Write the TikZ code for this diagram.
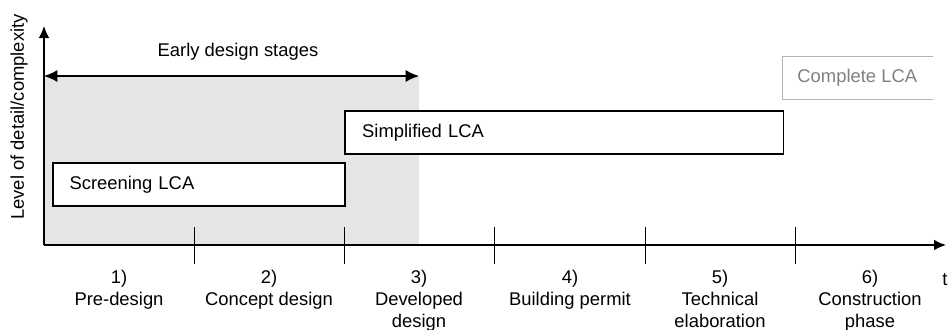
\documentclass[tikz,border=0pt]{standalone}
\usepackage{fontspec}
\setmainfont{Liberation Sans}
\usetikzlibrary{arrows.meta,positioning}

\tikzset{
  lcabox/.style={draw,line width=1.3pt,fill=white,anchor=west,align=left,inner xsep=12.5pt,minimum height=32pt,font=\fontsize{13.8}{16}\selectfont},
  stagelbl/.style={anchor=north,align=center,inner sep=1pt,font=\fontsize{13.8}{16.2}\selectfont}
}

\begin{document}
\begin{tikzpicture}[x=0.75pt,y=-0.75pt]
\useasboundingbox (0,0) rectangle (949,329);
\fill[gray!20] (44,76) rectangle (419,245);
\coordinate (orig) at (44,245); \coordinate (ytop) at (44,26); \coordinate (xend) at (946,245);
\coordinate (earlyL) at (44,76); \coordinate (earlyR) at (419,76);
\draw[line width=1pt,-{Latex[length=9pt,width=8pt]}] (orig) -- (ytop);
\draw[line width=1pt,-{Latex[length=9pt,width=8pt]}] (orig) -- (xend);
\draw[line width=1pt,{Latex[length=10pt,width=9pt]}-{Latex[length=10pt,width=9pt]}] (earlyL) -- (earlyR);
\foreach \x in {194,344,494,645,795} {\draw[line width=0.6pt] (\x,227) -- (\x,264);}
\node[font=\fontsize{13.8}{16}\selectfont] (early) at (238,52) {Early design stages};
\node[rotate=90,font=\fontsize{13.8}{16}\selectfont] (ylbl) at (19,117) {Level of detail/complexity};
\node[font=\fontsize{13.8}{16}\selectfont,anchor=west,inner sep=0pt] (tlbl) at (942,280) {t};
% LCA boxes
\node[lcabox,text width=194pt] (screen) at (52,184.5) {Screening LCA};
\node[lcabox,text width=303pt,inner xsep=13pt] (simple) at (344,132.5) {Simplified LCA};
\node[anchor=west,minimum width=112.5pt,minimum height=31.5pt,inner sep=0pt,text=black!50,font=\fontsize{13.8}{16}\selectfont] (complete) at (782,78) {Complete LCA};
\draw[black!30,line width=0.7pt] (complete.north east) -- (complete.north west) -- (complete.south west) -- (complete.south east);
% stages
\foreach \x/\n/\l in {119/s1/{1)\\Pre-design},269/s2/{2)\\Concept design},419/s3/{3)\\Developed\\design},570/s4/{4)\\Building permit},720/s5/{5)\\Technical\\elaboration},870/s6/{6)\\Construction\\phase}} {\node[stagelbl] (\n) at (\x,269) {\l};}
\end{tikzpicture}
\end{document}
